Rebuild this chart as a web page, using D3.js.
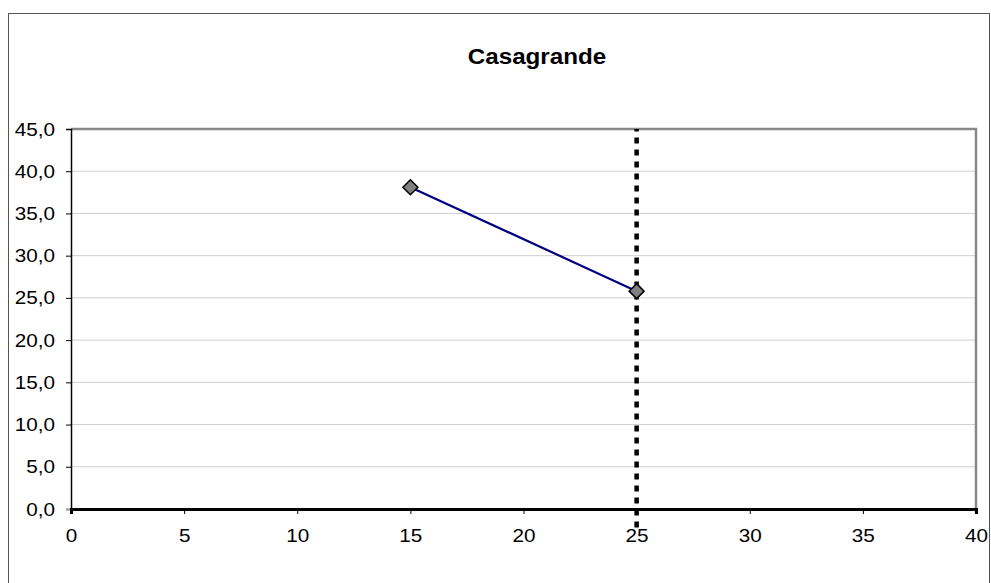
<!DOCTYPE html>
<html>
<head>
<meta charset="utf-8">
<script src="https://cdn.jsdelivr.net/npm/d3@7"></script>
<style>
  html, body { margin: 0; padding: 0; background: #fff; }
  svg { display: block; font-family: "Liberation Sans", Arial, sans-serif; }
</style>
</head>
<body>
<svg id="chart" width="991" height="583"></svg>
<script>
// Series: measured points
const seriesX = [15, 25];
const seriesY = [38.1, 25.8];
// Reference line at x = 25
const refX = [25, 25];
const refY = [-2.2, 45];
// Axis ticks
const xTicks = [0, 5, 10, 15, 20, 25, 30, 35, 40];
const yTicks = [0, 5, 10, 15, 20, 25, 30, 35, 40, 45];
const title = "Casagrande";

const svg = d3.select("#chart");
const margin = { left: 71, top: 129, right: 991 - 976, bottom: 583 - 509 };
const W = 991, H = 583;
const FONT = "'Liberation Sans', Arial, sans-serif";
const STRETCH = 1.09; // slightly wide lettering

const x = d3.scaleLinear().domain([0, 40]).range([margin.left, W - margin.right]);
const y = d3.scaleLinear().domain([0, 45]).range([H - margin.bottom, margin.top]);

// Outer chart frame
svg.append("rect")
  .attr("x", 8.5).attr("y", 13.5).attr("width", 981).attr("height", 600)
  .attr("fill", "none").attr("stroke", "#555").attr("stroke-width", 1);

// Title
svg.append("text")
  .attr("transform", `translate(537,64) scale(1.1,1)`)
  .attr("text-anchor", "middle")
  .attr("font-size", 22).attr("font-weight", "bold")
  .attr("font-family", FONT)
  .text(title);

// Horizontal gridlines
svg.append("g").selectAll("line")
  .data(yTicks.filter(d => d > 0 && d < 45))
  .join("line")
  .attr("x1", x(0)).attr("x2", x(40))
  .attr("y1", d => y(d)).attr("y2", d => y(d))
  .attr("stroke", "#d0d0d0").attr("stroke-width", 1);

// Plot border (top and right)
svg.append("path")
  .attr("d", `M${x(0)},${y(45)}H${x(40)}V${y(0) + 4}`)
  .attr("fill", "none").attr("stroke", "#888").attr("stroke-width", 2.5);

// Y axis
const yAxis = d3.axisLeft(y).tickValues(yTicks).tickSize(5).tickPadding(8)
  .tickFormat(d => d3.format(".1f")(d).replace(".", ","));
const gy = svg.append("g").attr("transform", `translate(${x(0)},0)`).call(yAxis);
gy.select(".domain").attr("stroke", "#000").attr("stroke-width", 1.5);
gy.selectAll(".tick line").attr("stroke", "#000");
gy.selectAll(".tick").filter(d => d === 0).select("line").attr("stroke", "#999");
gy.selectAll("text")
  .attr("x", -16 / STRETCH)
  .attr("transform", `scale(${STRETCH},1)`)
  .attr("font-size", 19).attr("fill", "#000")
  .attr("font-family", FONT);

// X axis
const xAxis = d3.axisBottom(x).tickValues(xTicks).tickSize(5).tickPadding(15)
  .tickFormat(d3.format("d"));
const gx = svg.append("g").attr("transform", `translate(0,${y(0)})`).call(xAxis);
gx.select(".domain").attr("stroke", "#000").attr("stroke-width", 3);
gx.selectAll(".tick line").attr("stroke", "#000");
gx.selectAll("text")
  .attr("transform", `scale(${STRETCH},1)`)
  .attr("font-size", 19).attr("fill", "#000")
  .attr("font-family", FONT);

// Dotted reference line
const refData = refX.map((v, i) => [v, refY[i]]);
svg.append("path")
  .datum(refData)
  .attr("d", d3.line().x(d => x(d[0])).y(d => y(d[1])))
  .attr("fill", "none").attr("stroke", "#000")
  .attr("stroke-width", 4.5).attr("stroke-dasharray", "6,6");

// Series line
const pts = seriesX.map((v, i) => [v, seriesY[i]]);
svg.append("path")
  .datum(pts)
  .attr("d", d3.line().x(d => x(d[0])).y(d => y(d[1])))
  .attr("fill", "none").attr("stroke", "#000080").attr("stroke-width", 2.2);

// Diamond markers
svg.append("g").selectAll("path")
  .data(pts)
  .join("path")
  .attr("transform", d => `translate(${x(d[0])},${y(d[1])})`)
  .attr("d", "M0,-7.5L7.5,0L0,7.5L-7.5,0Z")
  .attr("fill", "#808080").attr("stroke", "#000").attr("stroke-width", 1.5);
</script>
</body>
</html>
